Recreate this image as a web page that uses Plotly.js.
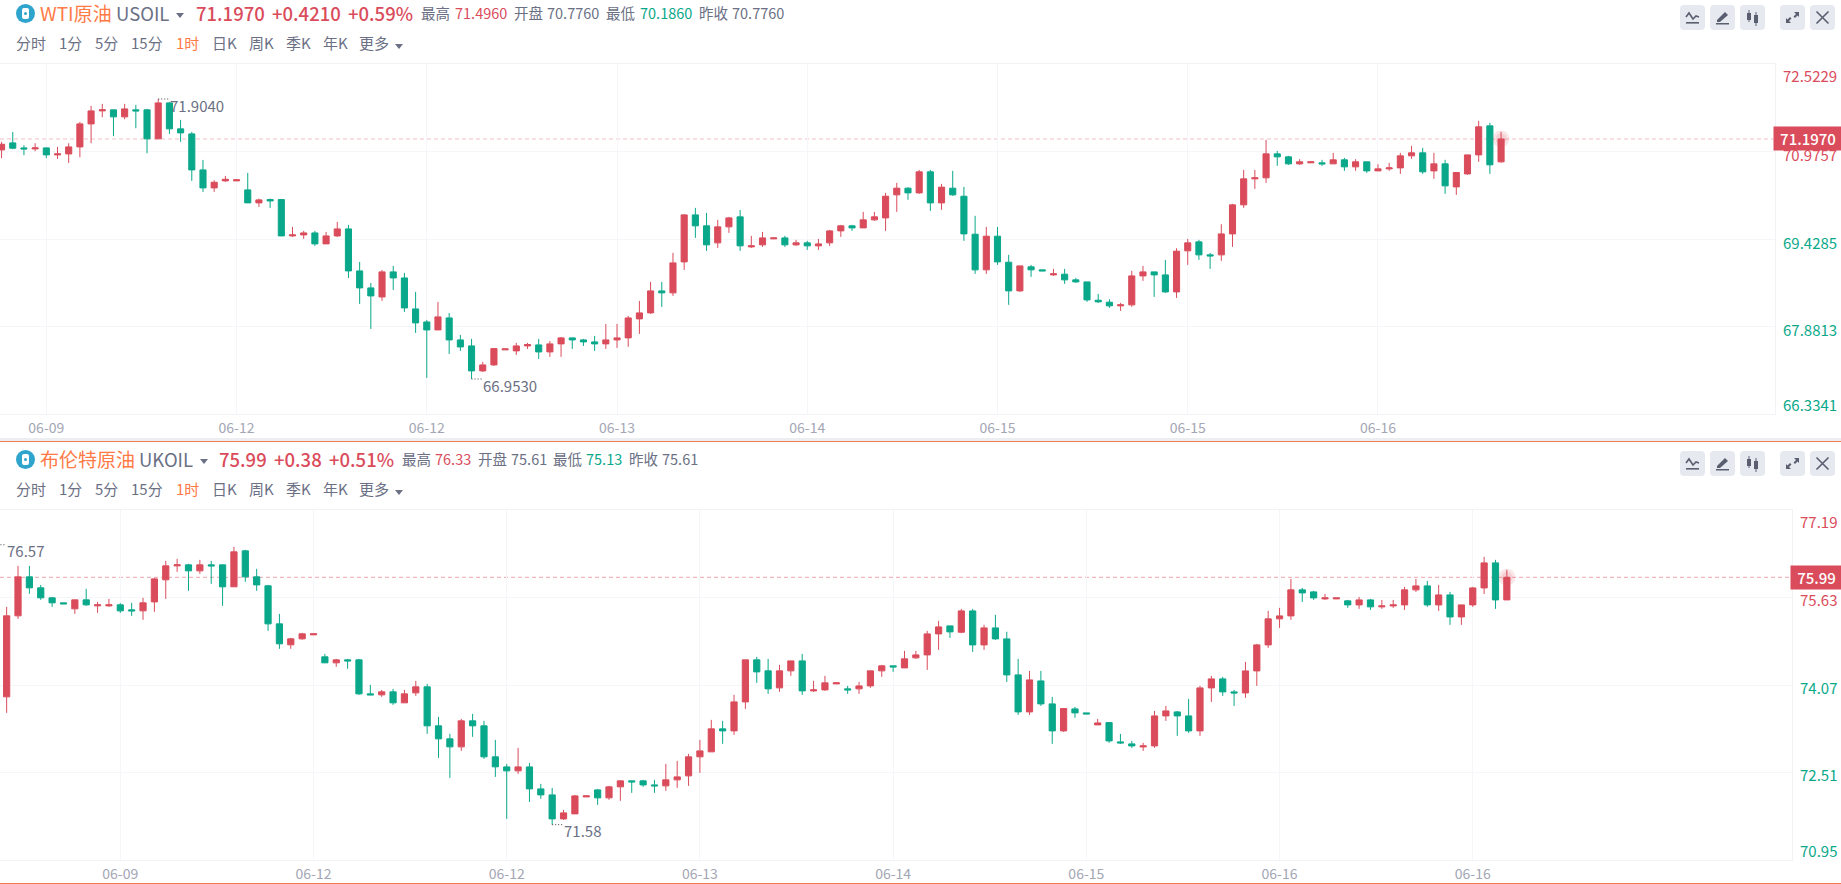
<!DOCTYPE html>
<html>
<head>
<meta charset="utf-8">
<title>WTI / Brent 1H</title>
<script src="https://cdn.plot.ly/plotly-3.0.1.min.js"></script>
<style>
    html, body { margin: 0; padding: 0; background: #fff; overflow: hidden; }
    body { width: 1841px; height: 884px; position: relative; font-family: "Noto Sans CJK SC", "Noto Sans", sans-serif; }
    .chart { position: absolute; left: 0; width: 1841px; }
    .txt { position: absolute; white-space: nowrap; line-height: 20px; height: 20px; }
    .btn { position: absolute; width: 25px; height: 25px; background: #e6e9f0; border-radius: 4px; }
    .btn svg { position: absolute; left: 0; top: 0; width: 25px; height: 25px; }
    .logo { position: absolute; width: 19px; height: 19px; border-radius: 50%; background: #2fa4cc; }
    .logo i { position: absolute; left: 6px; top: 4px; width: 7px; height: 11px; background: #fff; border-radius: 2px; }
    .logo b { position: absolute; left: 8px; top: 8px; width: 3px; height: 3px; background: #2fa4cc; border-radius: 50%; }
    .tri { position: absolute; width: 0; height: 0; border-left: 4px solid transparent; border-right: 4px solid transparent; border-top: 5px solid #6b7084; }
    .band { position: absolute; left: 0; width: 1841px; }
</style>
</head>
<body>
<div class="band" style="top:438px;height:3px;background:#eceef2"></div>
<div class="band" style="top:441px;height:1px;background:#f0794f"></div>
<div class="band" style="top:883px;height:1px;background:#f0794f"></div>
<div id="chart-wti" class="chart" style="top:54px;height:384px"></div>
<div id="chart-uk" class="chart" style="top:500px;height:383px"></div>
<script>
// ---------- Colours ---------- //
const upColor = '#da4c5b'
const downColor = '#0aa88a'
const orange = '#ff7a45'
const gray = '#6b7084'

// ---------- WTI data: open, high, low, close ---------- //
const wtiBars = [
    [71.004,71.146,70.857,71.104],[71.128,71.322,71.016,71.034],[71.039,71.087,70.910,71.022],[71.022,71.122,70.981,71.039],
    [71.039,71.051,70.857,70.916],[70.916,71.057,70.845,70.933],[70.933,71.122,70.774,71.057],[71.057,71.499,70.874,71.464],
    [71.464,71.782,71.122,71.694],[71.694,71.818,71.582,71.712],[71.712,71.712,71.246,71.588],[71.588,71.818,71.546,71.729],
    [71.712,71.800,71.387,71.694],[71.712,71.729,70.945,71.199],[71.199,71.904,71.199,71.835],[71.835,71.853,71.287,71.376],
    [71.376,71.535,71.146,71.305],[71.287,71.322,70.456,70.650],[70.650,70.827,70.261,70.332],[70.332,70.468,70.261,70.432],
    [70.456,70.544,70.438,70.485],[70.456,70.474,70.456,70.474],[70.297,70.597,70.067,70.067],[70.067,70.143,69.996,70.120],
    [70.126,70.143,69.978,70.102],[70.126,70.126,69.483,69.483],[69.483,69.642,69.466,69.501],[69.501,69.572,69.430,69.536],
    [69.536,69.572,69.306,69.342],[69.342,69.554,69.342,69.483],[69.483,69.731,69.466,69.607],[69.607,69.678,68.740,68.864],
    [68.864,69.023,68.281,68.564],[68.564,68.652,67.838,68.422],[68.404,68.882,68.334,68.847],[68.847,68.953,68.528,68.740],
    [68.740,68.829,68.139,68.210],[68.192,68.493,67.768,67.945],[67.962,67.998,66.972,67.821],[67.821,68.316,67.821,68.051],
    [68.033,68.121,67.396,67.644],[67.644,67.732,67.449,67.520],[67.538,67.662,66.953,67.096],[67.096,67.255,67.078,67.202],
    [67.202,67.491,67.184,67.491],[67.468,67.485,67.468,67.485],[67.450,67.591,67.379,67.538],[67.538,67.591,67.485,67.562],
    [67.556,67.662,67.308,67.432],[67.432,67.627,67.344,67.574],[67.574,67.697,67.344,67.680],[67.680,67.680,67.485,67.644],
    [67.644,67.662,67.538,67.609],[67.609,67.715,67.450,67.574],[67.574,67.927,67.485,67.644],[67.644,67.927,67.503,67.680],
    [67.680,68.069,67.521,68.033],[68.016,68.334,67.751,68.122],[68.122,68.670,68.104,68.511],[68.511,68.670,68.228,68.476],
    [68.476,69.183,68.423,69.006],[69.024,69.867,68.882,69.855],[69.855,69.979,69.448,69.661],[69.661,69.890,69.218,69.325],
    [69.360,69.767,69.271,69.643],[69.643,69.820,69.537,69.802],[69.820,69.943,69.218,69.307],[69.289,69.484,69.271,69.307],
    [69.325,69.554,69.289,69.448],[69.431,69.448,69.431,69.448],[69.448,69.484,69.289,69.325],[69.325,69.413,69.307,69.360],
    [69.360,69.395,69.236,69.307],[69.307,69.431,69.236,69.342],[69.360,69.590,69.307,69.572],[69.572,69.678,69.466,69.661],
    [69.661,69.678,69.572,69.625],[69.625,69.908,69.625,69.767],[69.767,69.908,69.749,69.820],[69.802,70.244,69.572,70.185],
    [70.209,70.421,69.908,70.327],[70.327,70.345,70.121,70.244],[70.244,70.651,70.227,70.616],[70.616,70.651,69.926,70.067],
    [70.067,70.403,69.944,70.345],[70.327,70.633,70.191,70.209],[70.185,70.350,69.395,69.519],[69.513,69.838,68.812,68.883],
    [68.883,69.643,68.812,69.478],[69.478,69.643,68.971,69.024],[69.018,69.148,68.264,68.511],[68.511,68.953,68.493,68.953],
    [68.936,68.971,68.759,68.883],[68.883,68.883,68.865,68.865],[68.794,68.900,68.776,68.812],[68.806,68.900,68.635,68.706],
    [68.706,68.741,68.653,68.670],[68.670,68.670,68.317,68.352],[68.346,68.458,68.299,68.317],[68.311,68.364,68.211,68.246],
    [68.246,68.299,68.157,68.264],[68.264,68.865,68.228,68.776],[68.776,68.953,68.688,68.847],[68.847,68.847,68.405,68.794],
    [68.794,69.059,68.476,68.493],[68.493,69.266,68.387,69.213],[69.219,69.431,68.971,69.360],[69.378,69.413,69.059,69.148],
    [69.148,69.183,68.900,69.130],[69.148,69.690,69.042,69.519],[69.519,70.050,69.289,70.032],[70.032,70.651,69.979,70.492],
    [70.492,70.651,70.315,70.510],[70.510,71.182,70.421,70.934],[70.934,70.987,70.722,70.881],[70.881,70.899,70.739,70.757],
    [70.757,70.840,70.739,70.793],[70.775,70.793,70.775,70.793],[70.775,70.828,70.722,70.757],[70.757,70.952,70.757,70.828],
    [70.828,70.863,70.633,70.704],[70.704,70.840,70.633,70.793],[70.793,70.793,70.598,70.633],[70.633,70.751,70.633,70.669],
    [70.669,70.775,70.633,70.686],[70.686,70.952,70.580,70.899],[70.899,71.076,70.846,70.952],[70.952,71.040,70.580,70.616],
    [70.633,70.952,70.492,70.757],[70.757,70.828,70.227,70.368],[70.350,70.604,70.209,70.604],[70.580,70.916,70.563,70.916],
    [70.916,71.518,70.793,71.412],[71.429,71.482,70.580,70.740],[70.793,71.323,70.775,71.197]
]
const wtiPriceTicks = [72.5229, 70.9757, 69.4285, 67.8813, 66.3341]
const wtiDateIdx = [4, 21, 38, 55, 72, 89, 106, 123]
const wtiDateLabels = ['06-09', '06-12', '06-12', '06-13', '06-14', '06-15', '06-15', '06-16']

// ---------- Brent data: open, high, low, close ---------- //
const ukBars = [
    [73.859,75.463,73.573,75.303],[75.303,76.194,75.249,75.998],[75.998,76.194,75.695,75.802],[75.802,75.855,75.588,75.624],
    [75.624,75.642,75.463,75.535],[75.535,75.535,75.517,75.517],[75.428,75.588,75.338,75.588],[75.588,75.784,75.481,75.499],
    [75.481,75.552,75.356,75.499],[75.481,75.606,75.463,75.499],[75.499,75.529,75.356,75.392],[75.410,75.535,75.303,75.392],
    [75.392,75.624,75.232,75.535],[75.552,75.980,75.374,75.962],[75.945,76.283,75.606,76.194],[76.194,76.319,76.087,76.212],
    [76.212,76.230,75.749,76.105],[76.105,76.301,76.052,76.212],[76.212,76.283,75.873,76.194],[76.212,76.218,75.481,75.820],
    [75.820,76.533,75.820,76.444],[76.462,76.480,75.909,75.998],[75.998,76.141,75.749,75.855],[75.838,75.855,75.035,75.160],
    [75.160,75.338,74.715,74.804],[74.786,74.911,74.715,74.893],[74.893,75.000,74.875,74.982],[74.964,74.982,74.964,74.982],
    [74.572,74.625,74.465,74.465],[74.465,74.536,74.394,74.518],[74.518,74.536,74.358,74.500],[74.518,74.536,73.894,73.912],
    [73.912,74.073,73.894,73.894],[73.894,73.983,73.859,73.948],[73.948,74.001,73.716,73.752],[73.752,73.983,73.752,73.912],
    [73.930,74.144,73.876,74.037],[74.037,74.090,73.199,73.342],[73.342,73.502,72.771,73.110],[73.110,73.199,72.415,72.967],
    [72.967,73.466,72.896,73.431],[73.431,73.556,73.146,73.342],[73.342,73.431,72.753,72.789],[72.789,73.092,72.432,72.611],
    [72.610,72.664,71.683,72.539],[72.539,72.949,72.485,72.610],[72.610,72.682,71.986,72.218],[72.218,72.307,72.040,72.111],
    [72.111,72.236,71.580,71.683],[71.683,71.844,71.665,71.790],[71.772,72.111,71.772,72.093],[72.075,72.093,72.075,72.093],
    [72.200,72.218,71.933,72.058],[72.058,72.272,72.022,72.254],[72.254,72.367,72.004,72.361],[72.361,72.367,72.147,72.343],
    [72.361,72.379,72.254,72.289],[72.289,72.379,72.147,72.272],[72.272,72.664,72.182,72.379],[72.379,72.717,72.236,72.432],
    [72.450,72.842,72.272,72.789],[72.789,73.092,72.503,72.895],[72.878,73.448,72.878,73.288],[73.288,73.430,73.020,73.252],
    [73.252,73.894,73.181,73.769],[73.769,74.518,73.644,74.518],[74.518,74.571,74.108,74.304],[74.322,74.536,73.912,74.001],
    [74.019,74.429,73.947,74.322],[74.322,74.500,74.233,74.500],[74.500,74.625,73.894,73.965],[73.965,74.144,73.947,73.983],
    [73.983,74.233,73.965,74.108],[74.090,74.108,74.090,74.108],[74.001,74.054,73.912,73.983],[74.001,74.126,73.912,74.054],
    [74.054,74.322,74.019,74.322],[74.322,74.429,74.215,74.411],[74.411,74.411,74.304,74.393],[74.375,74.678,74.375,74.536],
    [74.554,74.678,74.536,74.607],[74.607,75.035,74.340,74.981],[74.981,75.213,74.696,75.106],[75.124,75.124,74.910,75.017],
    [75.011,75.427,74.993,75.391],[75.391,75.427,74.660,74.785],[74.785,75.142,74.696,75.088],[75.088,75.320,74.874,74.892],
    [74.892,75.019,74.125,74.250],[74.250,74.535,73.537,73.590],[73.590,74.321,73.537,74.161],[74.143,74.321,73.697,73.733],
    [73.733,73.858,73.020,73.252],[73.252,73.650,73.234,73.650],[73.644,73.680,73.484,73.573],[73.573,73.573,73.555,73.555],
    [73.359,73.466,73.359,73.394],[73.400,73.400,73.038,73.073],[73.056,73.198,73.020,73.038],[73.020,73.073,72.949,72.984],
    [72.966,73.038,72.895,72.984],[72.984,73.608,72.949,73.519],[73.519,73.697,73.430,73.608],[73.590,73.608,73.163,73.519],
    [73.519,73.822,73.216,73.252],[73.252,74.054,73.163,74.018],[74.018,74.232,73.769,74.179],[74.179,74.215,73.876,73.947],
    [73.947,73.983,73.697,73.929],[73.929,74.482,73.840,74.321],[74.321,74.803,74.054,74.785],[74.785,75.391,74.732,75.249],
    [75.249,75.445,75.088,75.302],[75.302,75.962,75.231,75.766],[75.766,75.801,75.552,75.712],[75.730,75.748,75.587,75.623],
    [75.605,75.694,75.587,75.623],[75.605,75.623,75.605,75.623],[75.570,75.587,75.445,75.498],[75.498,75.641,75.427,75.587],
    [75.587,75.605,75.409,75.463],[75.463,75.587,75.427,75.480],[75.480,75.587,75.445,75.498],[75.498,75.819,75.409,75.766],
    [75.766,75.962,75.730,75.837],[75.837,75.926,75.463,75.498],[75.498,75.855,75.391,75.676],[75.676,75.730,75.142,75.284],
    [75.284,75.498,75.142,75.498],[75.498,75.819,75.463,75.801],[75.801,76.354,75.694,76.247],[76.247,76.301,75.427,75.587],
    [75.587,76.122,75.587,75.990]
]
const ukPriceTicks = [77.19, 75.63, 74.07, 72.51, 70.95]
const ukDateIdx = [10, 27, 44, 61, 78, 95, 112, 129]
const ukDateLabels = ['06-09', '06-12', '06-12', '06-13', '06-14', '06-15', '06-16', '06-16']

// ---------- Header text ---------- //
const periodLabels = ['分时', '1分', '5分', '15分', '1时', '日K', '周K', '季K', '年K', '更多']
const periodLeft = [16, 59, 95, 131, 176, 212, 249, 286, 323, 359]
const wtiHeader = [
    ['WTI原油', 40, 19, orange, 400], ['USOIL', 116, 18.5, gray, 400],
    ['71.1970', 196, 18.5, upColor, 500], ['+0.4210', 272, 18.5, upColor, 500], ['+0.59%', 348, 18.5, upColor, 500],
    ['最高', 421, 14.5, gray, 400], ['71.4960', 455, 14.5, upColor, 400],
    ['开盘', 514, 14.5, gray, 400], ['70.7760', 547, 14.5, gray, 400],
    ['最低', 606, 14.5, gray, 400], ['70.1860', 640, 14.5, downColor, 400],
    ['昨收', 699, 14.5, gray, 400], ['70.7760', 732, 14.5, gray, 400]
]
const ukHeader = [
    ['布伦特原油', 40, 19, orange, 400], ['UKOIL', 139, 18.5, gray, 400],
    ['75.99', 219, 18.5, upColor, 500], ['+0.38', 274, 18.5, upColor, 500], ['+0.51%', 329, 18.5, upColor, 500],
    ['最高', 402, 14.5, gray, 400], ['76.33', 435, 14.5, upColor, 400],
    ['开盘', 478, 14.5, gray, 400], ['75.61', 511, 14.5, gray, 400],
    ['最低', 553, 14.5, gray, 400], ['75.13', 586, 14.5, downColor, 400],
    ['昨收', 629, 14.5, gray, 400], ['75.61', 662, 14.5, gray, 400]
]

// ---------- Toolbar icons ---------- //
const icons = [
    '<polyline points="6,12 9,8 13,14 16,11 19,12" fill="none" stroke="#5a5f70" stroke-width="1.6"/><rect x="6" y="17" width="13" height="1.6" fill="#5a5f70"/>',
    '<path d="M7,15 L15,7 L18,10 L10,17 L7,17 Z" fill="#5a5f70"/><rect x="6" y="18" width="13" height="1.5" fill="#5a5f70"/>',
    '<rect x="7" y="8" width="4" height="7" fill="#5a5f70"/><rect x="8.5" y="5" width="1" height="12" fill="#5a5f70"/><rect x="14" y="10" width="4" height="8" fill="#5a5f70"/><rect x="15.5" y="7" width="1" height="14" fill="#5a5f70"/>',
    '<path d="M14,7 L19,7 L19,12 L17.5,10.5 L15,13 L13.5,11.5 L16,9 Z M11,18 L6,18 L6,13 L7.5,14.5 L10,12 L11.5,13.5 L9,16 Z" fill="#5a5f70"/>',
    '<path d="M6.5,6.5 L18.5,18.5 M18.5,6.5 L6.5,18.5" stroke="#5a5f70" stroke-width="1.6" fill="none"/>'
]
const iconLeft = [1680, 1710, 1740, 1780, 1810]

// ---------- Page header ---------- //
function addText(text, left, centerY, size, color, weight) {
    const el = document.createElement('div')
    el.className = 'txt'
    el.textContent = text
    el.style.cssText = `left:${left}px;top:${centerY - 10}px;font-size:${size}px;color:${color};font-weight:${weight};`
    document.body.appendChild(el)
}

function addHeader(rows, titleY, periodY, btnTop, triLeft) {
    const logo = document.createElement('div')
    logo.className = 'logo'
    logo.style.cssText = `left:16px;top:${titleY - 9}px;`
    logo.innerHTML = '<i></i><b></b>'
    document.body.appendChild(logo)

    rows.forEach(r => addText(r[0], r[1], titleY, r[2], r[3], r[4]))
    periodLabels.forEach((t, i) => addText(t, periodLeft[i], periodY, 15, t === '1时' ? orange : gray, 400))

    const triA = document.createElement('div')
    triA.className = 'tri'
    triA.style.cssText = `left:${triLeft}px;top:${titleY}px;`
    document.body.appendChild(triA)
    const triB = document.createElement('div')
    triB.className = 'tri'
    triB.style.cssText = `left:395px;top:${periodY + 1}px;`
    document.body.appendChild(triB)

    iconLeft.forEach((left, i) => {
        const btn = document.createElement('div')
        btn.className = 'btn'
        btn.style.cssText = `left:${left}px;top:${btnTop}px;`
        btn.innerHTML = `<svg viewBox="0 0 25 25">${icons[i]}</svg>`
        document.body.appendChild(btn)
    })
}

addHeader(wtiHeader, 13, 43, 5, 176)
addHeader(ukHeader, 459, 489, 451, 200)

// ---------- Charts ---------- //
function drawChart(id, opts) {
    const bars = opts.bars
    const xs = bars.map((_, i) => i)
    const lastX = xs[xs.length - 1]
    const last = bars[bars.length - 1][3]
    const ticks = opts.priceTicks
    const lowRange = ticks[ticks.length - 1]

    const candle = {
        type: 'candlestick',
        x: xs,
        open: bars.map(b => b[0]),
        high: bars.map(b => b[1]),
        low: bars.map(b => b[2]),
        close: bars.map(b => b[3]),
        increasing: { line: { color: upColor, width: 1 }, fillcolor: upColor },
        decreasing: { line: { color: downColor, width: 1 }, fillcolor: downColor },
        hoverinfo: 'skip',
        showlegend: false
    }
    const glow = {
        type: 'scatter', mode: 'markers', x: [lastX, lastX], y: [last, last],
        marker: { size: [17, 11], color: upColor, opacity: 0.14, line: { width: 0 } }, hoverinfo: 'skip', showlegend: false
    }
    const markLine = (from, to, value) => ({
        type: 'scatter', mode: 'lines', x: [from, to], y: [value, value],
        line: { color: '#444', width: 1, dash: '1px,2px' }, hoverinfo: 'skip', showlegend: false
    })

    // Price labels sit on the right, the top and bottom ones pulled inside
    const priceLabels = ticks.map((t, i) => ({
        xref: 'paper', yref: 'y', x: 1, y: t, xanchor: 'left', yanchor: 'middle', xshift: 6,
        yshift: i === 0 ? -11 : i === ticks.length - 1 ? 10 : -opts.labelDrop,
        showarrow: false, text: t.toFixed(opts.digits),
        font: { family: 'Noto Sans CJK SC', size: 15, color: t > opts.prevClose ? upColor : downColor }
    }))
    const markLabel = m => ({
        xref: 'x', yref: 'y', x: m.x, y: m.y, xanchor: 'left', yanchor: 'middle',
        xshift: m.dx, yshift: -6, showarrow: false, text: m.text,
        font: { family: 'Noto Sans CJK SC', size: 15, color: gray }
    })
    const priceTag = {
        xref: 'paper', yref: 'y', x: 1, y: last, xanchor: 'left', yanchor: 'middle', xshift: -2,
        showarrow: false, text: last.toFixed(opts.digits), width: opts.tagWidth, height: 21,
        bgcolor: upColor, borderpad: 1, align: 'center',
        font: { family: 'Noto Sans CJK SC', size: 15, color: '#fff', weight: 500 }
    }

    const layout = {
        width: 1841,
        height: opts.height,
        margin: { l: 0, r: opts.rightMargin, t: 10, b: opts.height - 360 },
        paper_bgcolor: 'rgba(0,0,0,0)',
        plot_bgcolor: '#fff',
        font: { family: 'Noto Sans CJK SC', size: 14, color: '#a3a6b4' },
        boxgap: 0.22,
        showlegend: false,
        dragmode: false,
        xaxis: {
            type: 'linear',
            range: opts.xRange,
            tickmode: 'array',
            tickvals: opts.dateIdx,
            ticktext: opts.dateLabels,
            ticks: 'outside', ticklen: 1, tickcolor: 'rgba(0,0,0,0)',
            showgrid: true, gridcolor: '#f5f6f9', zeroline: false,
            showline: true, linecolor: '#f1f2f6', mirror: true,
            rangeslider: { visible: false },
            fixedrange: true
        },
        yaxis: {
            side: 'right',
            range: [lowRange, ticks[0]],
            tickmode: 'array',
            tickvals: ticks,
            showticklabels: false,
            showgrid: true, gridcolor: '#f5f6f9', zeroline: false,
            showline: true, linecolor: '#f1f2f6', mirror: true,
            fixedrange: true
        },
        shapes: [{
            type: 'line', xref: 'paper', yref: 'y', x0: 0, x1: 1, y0: last, y1: last, layer: 'below',
            line: { color: opts.lastLine, width: 1, dash: '4px,3px' }
        }],
        annotations: opts.marks.map(markLabel).concat(priceLabels, [priceTag])
    }

    const traces = opts.markLines.map(m => markLine(m[0], m[1], m[2]))
    Plotly.newPlot(id, [candle, glow].concat(traces), layout, { displayModeBar: false, staticPlot: true })
}

drawChart('chart-wti', {
    bars: wtiBars,
    priceTicks: wtiPriceTicks,
    dateIdx: wtiDateIdx,
    dateLabels: wtiDateLabels,
    digits: 4,
    prevClose: 70.776,
    labelDrop: 3,
    height: 384,
    rightMargin: 66,
    tagWidth: 66,
    xRange: [-0.139, 158.48],
    lastLine: '#f4bfc5',
    markLines: [[14, 14.9, 71.904], [42, 42.9, 66.953]],
    marks: [
        { x: 14, y: 71.904, dx: 10, text: '71.9040' },
        { x: 42, y: 66.953, dx: 9, text: '66.9530' }
    ]
})

drawChart('chart-uk', {
    bars: ukBars,
    priceTicks: ukPriceTicks,
    dateIdx: ukDateIdx,
    dateLabels: ukDateLabels,
    digits: 2,
    prevClose: 75.61,
    labelDrop: 2,
    height: 383,
    rightMargin: 49,
    tagWidth: 49,
    xRange: [-0.585, 157.09],
    lastLine: '#eda6ae',
    markLines: [[-0.55, -0.15, 76.57], [48, 48.9, 71.58]],
    marks: [
        { x: -0.15, y: 76.57, dx: 0, text: '76.57' },
        { x: 48, y: 71.58, dx: 10, text: '71.58' }
    ]
})
</script>
</body>
</html>
